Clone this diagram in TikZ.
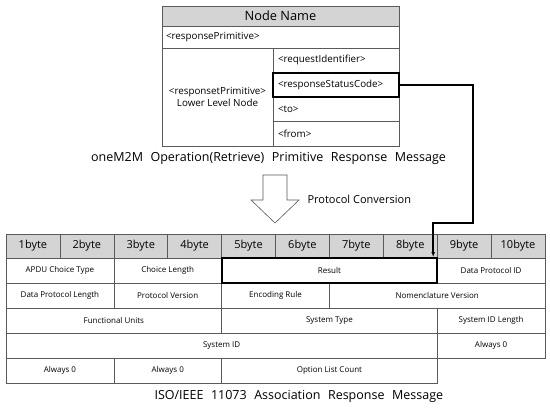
\documentclass[tikz,border=0pt]{standalone}
\usepackage{fontspec}
\setmainfont{Open Sans}
\usetikzlibrary{arrows.meta,positioning,calc}
\definecolor{cellgray}{HTML}{D4D4D4}
\definecolor{rulegray}{HTML}{5A5A5A}
\newcommand\widesp{\spaceskip=.6em\relax}

\begin{document}
\begin{tikzpicture}[x=1pt,y=-1pt,
  cell/.style={draw=rulegray,line width=.6pt,inner sep=0pt,minimum height=25pt,font=\fontsize{8}{9.5}\selectfont},
  bytecell/.style={cell,fill=cellgray,minimum width=53.9pt,minimum height=24pt,font=\fontsize{11}{13}\selectfont},
  topcell/.style={cell,font=\fontsize{9.8}{11.5}\selectfont},
  hot/.style={draw=black,line width=2pt},
  link/.style={draw=black,line width=1.6pt,-{Latex[length=5pt,width=4pt]}},
  msgtitle/.style={font=\fontsize{12.5}{14}\selectfont}]
\useasboundingbox (0,0) rectangle (550,412);
\node[topcell,fill=cellgray,minimum width=237pt,minimum height=20pt,font=\fontsize{12.8}{15}\selectfont] (hdr) at (280.5,16) {Node Name};
\node[topcell,minimum width=237pt,minimum height=22pt,text width=229pt,inner xsep=4pt,align=left] (rp) at (280.5,37) {<responsePrimitive>};
\node[topcell,minimum width=111pt,minimum height=98pt,align=center] (lln) at (217.5,97) {<responsetPrimitive>\\Lower Level Node};
\node[topcell,minimum width=126pt,minimum height=24.5pt,text width=116pt,inner xsep=5pt,align=left] (rid) at (336,60.25) {<requestIdentifier>};
\node[topcell,minimum width=126pt,minimum height=24.5pt,text width=116pt,inner xsep=5pt,align=left] (to) at (336,109.25) {<to>};
\node[topcell,minimum width=126pt,minimum height=24.5pt,text width=116pt,inner xsep=5pt,align=left] (from) at (336,133.75) {<from>};
\node[topcell,hot,minimum width=126pt,minimum height=24.5pt,text width=116pt,inner xsep=5pt,align=left] (rsc) at (336,85) {<responseStatusCode>};
\node[msgtitle] (cap1) at (268.5,158) {\widesp oneM2M Operation(Retrieve) Primitive Response Message};

\draw[black!65,line width=.6pt,fill=white] (263,175) -- (287,175) -- (287,200) -- (299,200) -- (275,223) -- (251,200) -- (263,200) -- cycle;
\node[anchor=west,font=\fontsize{11}{13}\selectfont] (conv) at (304,199) {Protocol Conversion};

\foreach \i in {1,...,10}
  \node[bytecell] (b\i) at ({6+53.9*(\i-0.5)},246) {\i byte};
\node[cell,minimum width=107.8pt] (apdu) at (59.9,270.5) {APDU Choice Type};
\node[cell,minimum width=107.8pt] (chl) at (167.7,270.5) {Choice Length};
\node[cell,minimum width=107.8pt] (dpid) at (491.1,270.5) {Data Protocol ID};
\node[cell,minimum width=107.8pt] (dpl) at (59.9,295.5) {Data Protocol Length};
\node[cell,minimum width=107.8pt] (pver) at (167.7,295.5) {Protocol Version};
\node[cell,minimum width=107.8pt] (enc) at (275.5,295.5) {Encoding Rule};
\node[cell,minimum width=215.6pt] (nom) at (437.2,295.5) {Nomenclature Version};
\node[cell,minimum width=215.6pt] (fu) at (113.8,320.5) {Functional Units};
\node[cell,minimum width=215.6pt] (stype) at (329.4,320.5) {System Type};
\node[cell,minimum width=107.8pt] (sidl) at (491.1,320.5) {System ID Length};
\node[cell,minimum width=431.2pt] (sid) at (221.6,345.5) {System ID};
\node[cell,minimum width=107.8pt] (az1) at (491.1,345.5) {Always 0};
\node[cell,minimum width=107.8pt] (az2) at (59.9,370.5) {Always 0};
\node[cell,minimum width=107.8pt] (az3) at (167.7,370.5) {Always 0};
\node[cell,minimum width=215.6pt] (olc) at (329.4,370.5) {Option List Count};
\node[cell,hot,minimum width=215.6pt] (res) at (329.4,270.5) {Result};
\node[msgtitle,anchor=west] (cap2) at (151,396) {\widesp ISO/IEEE 11073 Association Response Message};

\coordinate (turn) at (473,223);
\draw[link] (rsc.east) -| (turn) -| ([xshift=-5pt]res.north east);
\end{tikzpicture}
\end{document}
